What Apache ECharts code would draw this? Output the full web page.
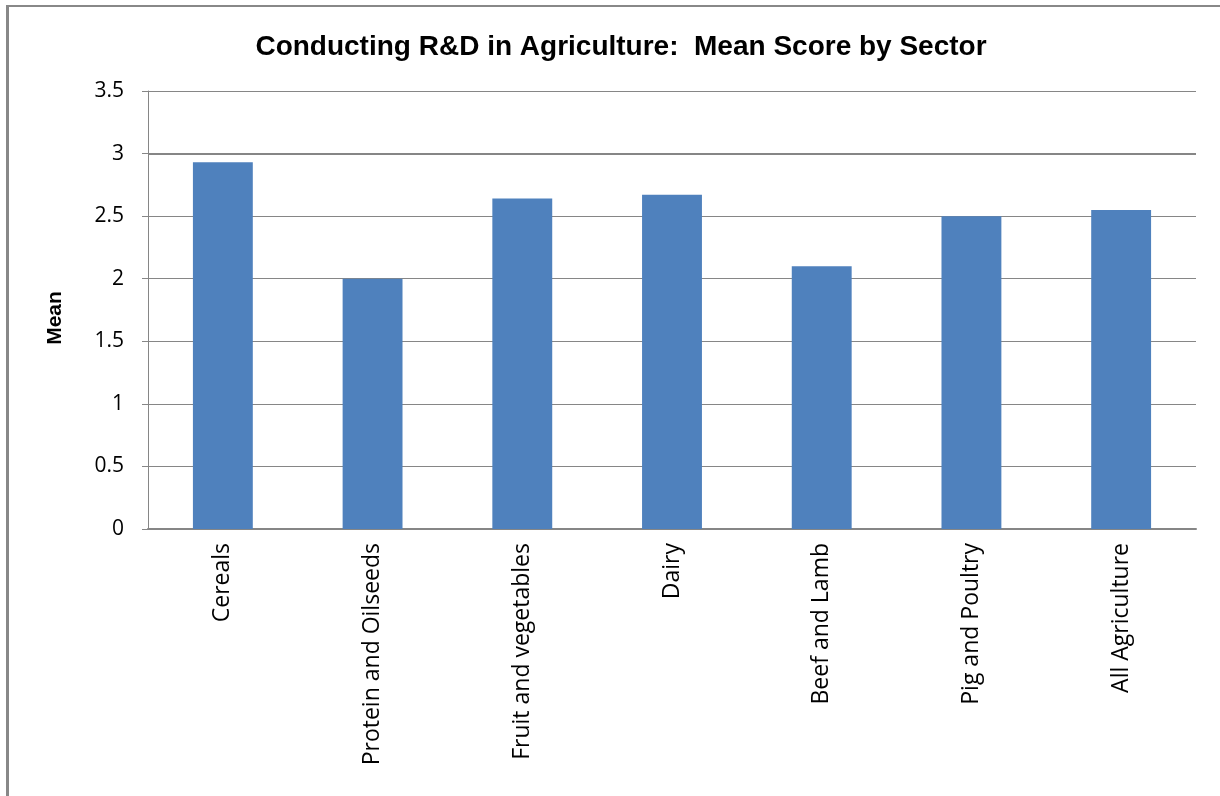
<!DOCTYPE html>
<html><head><meta charset="utf-8">
<script src="https://cdn.jsdelivr.net/npm/echarts@6/dist/echarts.min.js"></script>
<style>html,body{margin:0;padding:0;background:#fff}#c{width:1220px;height:796px}
#frame{position:absolute;left:6px;top:5px;width:1214px;height:791px;border-top:2px solid #888;border-left:3px solid #888;box-sizing:border-box;pointer-events:none}</style>
</head><body><div id="c"></div><div id="frame"></div>
<script>
const categories = ['Cereals','Protein and Oilseeds','Fruit and vegetables','Dairy','Beef and Lamb','Pig and Poultry','All Agriculture'];
const meanValues = [2.93, 2.0, 2.64, 2.67, 2.1, 2.5, 2.55];
const yTicks = [0, 0.5, 1, 1.5, 2, 2.5, 3, 3.5];

const chart = echarts.init(document.getElementById('c'));
chart.setOption({
  animation: false,
  title: { text: 'Conducting R&D in Agriculture:  Mean Score by Sector', left: 616, top: 28, textAlign: 'center',
    textStyle: { fontFamily: 'Liberation Sans, Arial', fontWeight: 'bold', fontSize: 28, color: '#000' } },
  grid: { left: 148, right: 24, top: 91, bottom: 267 },
  xAxis: { type: 'category', data: categories,
    axisLine: { lineStyle: { color: '#868686', width: 2 } },
    axisTick: { show: false },
    axisLabel: { rotate: 90, margin: 14, fontSize: 23, color: '#000', fontFamily: 'Open Sans, Arial' } },
  yAxis: { type: 'value', min: yTicks[0], max: yTicks[yTicks.length-1], interval: 0.5,
    name: 'Mean', nameLocation: 'middle', nameGap: 82, nameRotate: 90,
    nameTextStyle: { fontWeight: 'bold', fontSize: 21, color: '#000', fontFamily: 'Liberation Sans, Arial', padding: [0, 16, 0, 0] },
    axisLine: { show: true, lineStyle: { color: '#868686', width: 1 } },
    axisTick: { show: true, length: 6, lineStyle: { color: '#868686' } },
    axisLabel: { margin: 24, fontSize: 21, color: '#000', fontFamily: 'Open Sans, Liberation Sans, Arial',
      formatter: v => String(v) },
    splitLine: { lineStyle: { color: '#868686', width: 1 } } },
  series: [{ type: 'bar', data: meanValues, barWidth: '40%', itemStyle: { color: '#4F81BD' },
    markLine: { silent: true, symbol: 'none', label: { show: false },
      lineStyle: { color: '#868686', width: 2, type: 'solid' }, data: [{ yAxis: 3 }] } }]
});
</script></body></html>
